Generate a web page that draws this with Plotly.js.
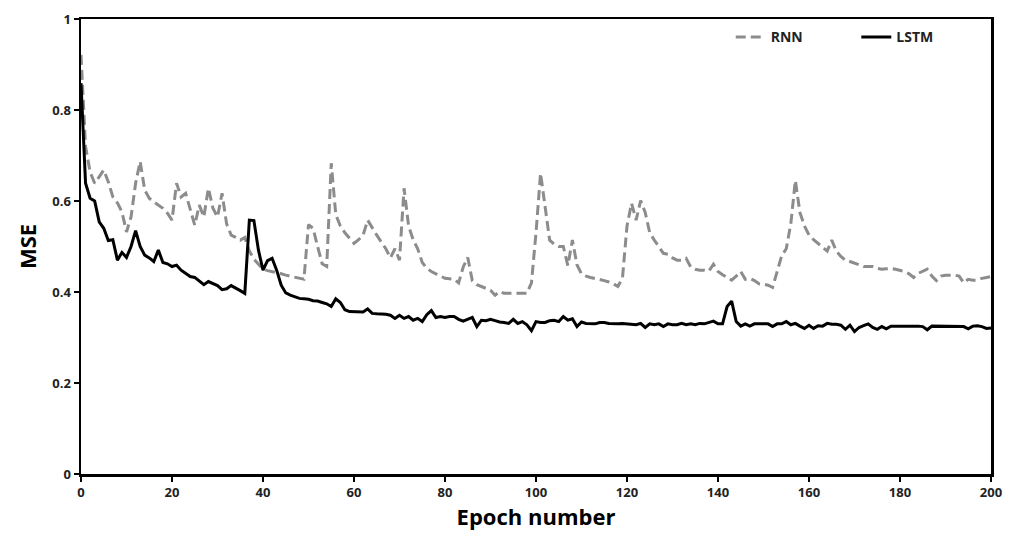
<!DOCTYPE html>
<html>
<head>
<meta charset="utf-8">
<script src="https://cdn.plot.ly/plotly-3.0.1.min.js"></script>
<style>html,body{margin:0;padding:0;background:#fff;}#chart{width:1013px;height:538px;}</style>
</head>
<body>
<div id="chart"></div>
<script>
const rnn = [
0.921,0.72,0.664,0.639,0.653,0.668,0.642,0.609,0.596,0.576,
0.532,0.565,0.639,0.687,0.624,0.606,0.598,0.591,0.584,0.573,
0.558,0.639,0.609,0.617,0.584,0.547,0.591,0.565,0.628,0.584,
0.565,0.617,0.55,0.525,0.52,0.514,0.52,0.49,0.472,0.46,
0.45,0.447,0.445,0.443,0.44,0.437,0.435,0.432,0.43,0.428,
0.548,0.54,0.50,0.462,0.456,0.683,0.57,0.545,0.53,0.518,
0.507,0.515,0.525,0.558,0.54,0.525,0.51,0.495,0.475,0.495,
0.47,0.628,0.545,0.515,0.495,0.465,0.452,0.445,0.44,0.435,
0.43,0.429,0.428,0.42,0.455,0.476,0.425,0.416,0.412,0.409,
0.404,0.393,0.401,0.397,0.397,0.397,0.397,0.397,0.397,0.42,
0.53,0.661,0.59,0.514,0.505,0.50,0.50,0.458,0.514,0.46,
0.44,0.435,0.432,0.43,0.428,0.425,0.422,0.418,0.412,0.43,
0.545,0.595,0.558,0.601,0.575,0.53,0.514,0.50,0.485,0.483,
0.475,0.47,0.47,0.474,0.455,0.45,0.448,0.448,0.446,0.461,
0.445,0.438,0.432,0.426,0.435,0.445,0.428,0.43,0.425,0.418,
0.417,0.415,0.41,0.445,0.48,0.495,0.55,0.645,0.575,0.545,
0.525,0.515,0.507,0.498,0.49,0.514,0.49,0.478,0.47,0.467,
0.464,0.46,0.456,0.456,0.456,0.452,0.45,0.451,0.452,0.45,
0.448,0.445,0.44,0.432,0.441,0.446,0.45,0.435,0.425,0.435,
0.437,0.437,0.437,0.435,0.42,0.428,0.426,0.426,0.43,0.432,
0.434
];
const lstm = [
0.859,0.639,0.606,0.60,0.554,0.540,0.513,0.515,0.470,0.487,
0.476,0.500,0.535,0.500,0.481,0.475,0.467,0.492,0.465,0.462,
0.456,0.459,0.448,0.441,0.434,0.432,0.425,0.416,0.423,0.418,
0.414,0.405,0.407,0.414,0.409,0.403,0.397,0.558,0.557,0.492,
0.448,0.469,0.474,0.448,0.415,0.398,0.393,0.390,0.386,0.385,
0.384,0.381,0.380,0.377,0.374,0.368,0.385,0.377,0.361,0.357,
0.357,0.356,0.356,0.363,0.353,0.352,0.352,0.351,0.349,0.342,
0.349,0.342,0.346,0.338,0.342,0.335,0.350,0.359,0.344,0.346,
0.344,0.346,0.346,0.340,0.336,0.340,0.344,0.324,0.338,0.337,
0.340,0.337,0.334,0.333,0.331,0.340,0.331,0.335,0.328,0.315,
0.335,0.333,0.333,0.337,0.338,0.335,0.346,0.338,0.341,0.324,
0.334,0.331,0.331,0.330,0.333,0.333,0.331,0.330,0.330,0.331,
0.330,0.330,0.328,0.331,0.322,0.330,0.328,0.330,0.324,0.330,
0.328,0.328,0.331,0.328,0.330,0.328,0.331,0.330,0.333,0.336,
0.330,0.330,0.368,0.380,0.335,0.325,0.330,0.325,0.330,0.330,
0.330,0.330,0.324,0.330,0.330,0.335,0.328,0.331,0.325,0.320,
0.327,0.320,0.326,0.325,0.331,0.329,0.329,0.327,0.318,0.327,
0.313,0.322,0.326,0.330,0.322,0.318,0.324,0.319,0.325,0.325,
0.326,0.325,0.325,0.325,0.325,0.324,0.317,0.325,0.325,0.324,
0.324,0.324,0.324,0.324,0.324,0.319,0.325,0.326,0.324,0.320,
0.321
];
const epochs = rnn.map((_, i) => i);
const xTicks = [0,20,40,60,80,100,120,140,160,180,200];
const yTicks = [0,0.2,0.4,0.6,0.8,1];
const yTickText = ['0','0.2','0.4','0.6','0.8','1'];

const tickFont = {family: 'Open Sans, Arial, sans-serif', size: 13, color: '#222', weight: 'bold'};
const titleFont = {family: 'Open Sans, Arial, sans-serif', size: 22, color: '#000', weight: 'bold'};
const legendFont = {family: 'Open Sans, Arial, sans-serif', size: 14, color: '#222', weight: 'bold'};

const traces = [
  {x: epochs, y: rnn, name: 'RNN', type: 'scatter', mode: 'lines', legend: 'legend',
   line: {color: '#8c8c8c', width: 3, dash: '10px,5px'}},
  {x: epochs, y: lstm, name: 'LSTM', type: 'scatter', mode: 'lines', legend: 'legend2',
   line: {color: '#000000', width: 3}}
];
const layout = {
  width: 1013, height: 538,
  margin: {l: 81, r: 22, t: 19, b: 64},
  paper_bgcolor: '#fff', plot_bgcolor: '#fff',
  showlegend: true,
  legend: {orientation: 'h', x: 0.714, y: 0.995, xanchor: 'left', yanchor: 'top',
           font: legendFont, bgcolor: 'rgba(0,0,0,0)', itemwidth: 30},
  legend2: {orientation: 'h', x: 0.852, y: 0.995, xanchor: 'left', yanchor: 'top',
           font: legendFont, bgcolor: 'rgba(0,0,0,0)', itemwidth: 30},
  xaxis: {range: [0, 200], tickvals: xTicks, ticktext: xTicks.map(String),
          showgrid: false, zeroline: false, showline: true, mirror: true,
          linecolor: '#000', linewidth: 2.5, ticks: 'outside', ticklen: 5, tickwidth: 2,
          tickcolor: '#000', tickfont: tickFont,
          title: {text: 'Epoch number', font: titleFont, standoff: 8}},
  yaxis: {range: [0, 1], tickvals: yTicks, ticktext: yTickText,
          showgrid: false, zeroline: false, showline: true, mirror: true,
          linecolor: '#000', linewidth: 2.5, ticks: 'outside', ticklen: 5, tickwidth: 2,
          tickcolor: '#000', tickfont: tickFont,
          title: {text: 'MSE', font: titleFont, standoff: 10}}
};
Plotly.newPlot('chart', traces, layout, {displayModeBar: false, staticPlot: true});
</script>
</body>
</html>
